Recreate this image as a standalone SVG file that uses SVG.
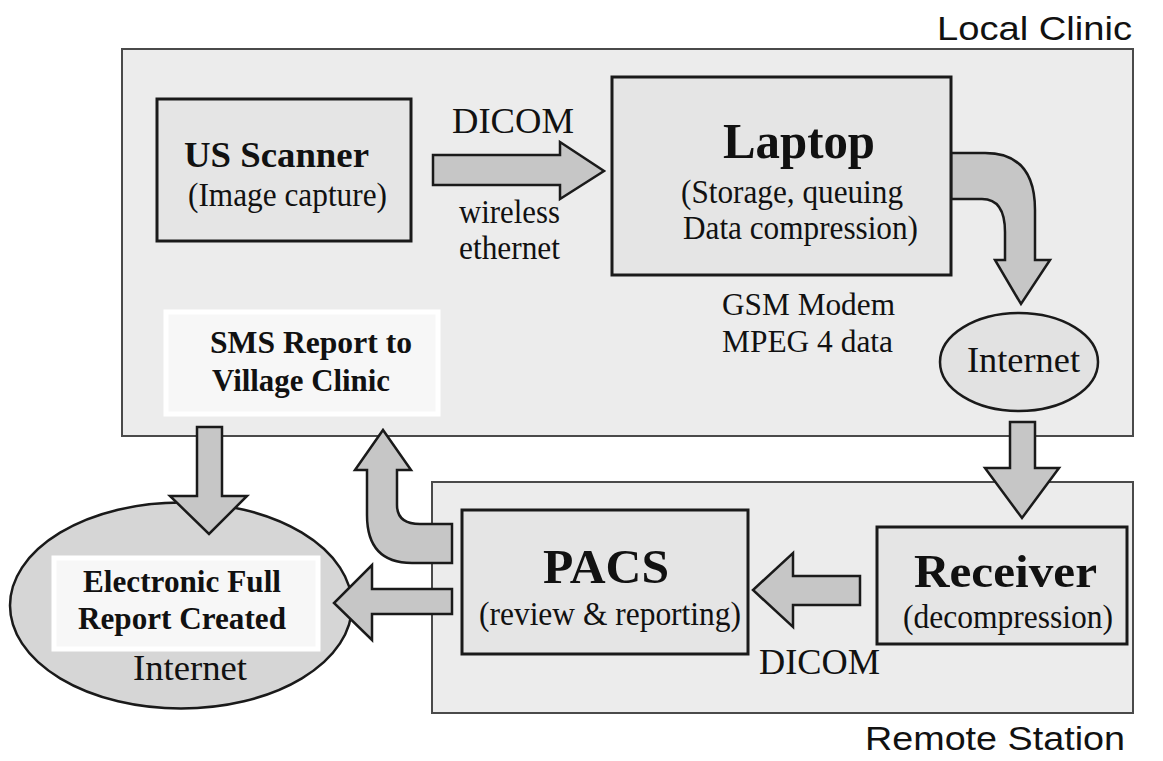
<svg xmlns="http://www.w3.org/2000/svg" width="1163" height="761" viewBox="0 0 1163 761">
<style>
.cont{fill:#ececec;stroke:#4a4a4a;stroke-width:2}
.box{fill:#e5e5e5;stroke:#1a1a1a;stroke-width:3}
.arr{fill:#c6c6c6;stroke:#1a1a1a;stroke-width:2.5;stroke-linejoin:miter}
.ell{stroke:#1a1a1a;stroke-width:2.5}
.wbox{fill:#f7f7f7;stroke:#ffffff;stroke-width:5}
.t{font-family:"Liberation Serif","Times New Roman",serif;fill:#111}
.b{font-weight:bold}
.s{font-family:"Liberation Sans",Arial,sans-serif;fill:#111}
</style>
<rect width="1163" height="761" fill="#ffffff"/>
<g id="local-clinic">
<rect class="cont" x="122" y="49" width="1011" height="387"/>
<text class="s" x="937" y="40" font-size="34" textLength="195" lengthAdjust="spacingAndGlyphs">Local Clinic</text>
</g>
<g id="remote-station">
<rect class="cont" x="432" y="482" width="701" height="231"/>
<text class="s" x="865" y="750" font-size="34" textLength="260" lengthAdjust="spacingAndGlyphs">Remote Station</text>
</g>
<g id="internet-top">
<ellipse class="ell" cx="1019" cy="362" rx="79" ry="49" fill="#e2e2e2"/>
<text class="t" x="967" y="372" font-size="36" textLength="113" lengthAdjust="spacingAndGlyphs">Internet</text>
</g>
<g id="electronic-report">
<ellipse class="ell" cx="181" cy="605.5" rx="171" ry="103" fill="#d6d6d6"/>
<rect class="wbox" x="54" y="558" width="264" height="91"/>
<text class="t b" x="83" y="592" font-size="31" textLength="198" lengthAdjust="spacingAndGlyphs">Electronic Full</text>
<text class="t b" x="78" y="629" font-size="31" textLength="208" lengthAdjust="spacingAndGlyphs">Report Created</text>
<text class="t" x="133" y="680" font-size="36" textLength="114" lengthAdjust="spacingAndGlyphs">Internet</text>
</g>
<g id="connectors">
<path class="arr" d="M433,155 L560,155 L560,142 L604,171 L560,199 L560,185 L433,185 Z"/>
<path class="arr" d="M951,153 L985,153 Q1035,153 1035,210 L1035,260 L1050,260 L1021,304 L995,260 L1005,260 L1005,232 Q1005,199 982,199 L951,199 Z"/>
<path class="arr" d="M1010,422 L1035,422 L1035,468 L1059,468 L1022,518 L985,468 L1010,468 Z"/>
<path class="arr" d="M860,576 L793,576 L793,553 L753,590 L793,627 L793,605 L860,605 Z"/>
<path class="arr" d="M452,589 L372,589 L372,565 L334,603 L372,640 L372,614 L452,614 Z"/>
<path class="arr" d="M452,563 L412,563 Q367,563 367,515 L367,470 L355,470 L383,430 L411,470 L397,470 L397,505 Q397,524 420,524 L452,524 Z"/>
<path class="arr" d="M197,427 L222,427 L222,496 L247,496 L209,534 L170,496 L197,496 Z"/>
</g>
<g id="us-scanner">
<rect class="box" x="157" y="99" width="254" height="142"/>
<text class="t b" x="184" y="167" font-size="36" textLength="185" lengthAdjust="spacingAndGlyphs">US Scanner</text>
<text class="t" x="188" y="206" font-size="33" textLength="199" lengthAdjust="spacingAndGlyphs">(Image capture)</text>
</g>
<g id="dicom-wireless-label">
<text class="t" x="452" y="133" font-size="36" textLength="122" lengthAdjust="spacingAndGlyphs">DICOM</text>
<text class="t" x="459" y="223" font-size="33" textLength="101" lengthAdjust="spacingAndGlyphs">wireless</text>
<text class="t" x="459" y="259" font-size="33" textLength="101" lengthAdjust="spacingAndGlyphs">ethernet</text>
</g>
<g id="laptop">
<rect class="box" x="612" y="77" width="339" height="198"/>
<text class="t b" x="723" y="158" font-size="50" textLength="152" lengthAdjust="spacingAndGlyphs">Laptop</text>
<text class="t" x="681" y="203" font-size="33" textLength="222" lengthAdjust="spacingAndGlyphs">(Storage, queuing</text>
<text class="t" x="683" y="239" font-size="33" textLength="235" lengthAdjust="spacingAndGlyphs">Data compression)</text>
</g>
<g id="gsm-label">
<text class="t" x="722" y="315" font-size="32" textLength="173" lengthAdjust="spacingAndGlyphs">GSM Modem</text>
<text class="t" x="722" y="352" font-size="32" textLength="171" lengthAdjust="spacingAndGlyphs">MPEG 4 data</text>
</g>
<g id="sms-report">
<rect class="wbox" x="166" y="312" width="272" height="102"/>
<text class="t b" x="210" y="353" font-size="31" textLength="202" lengthAdjust="spacingAndGlyphs">SMS Report to</text>
<text class="t b" x="212" y="391" font-size="31" textLength="178" lengthAdjust="spacingAndGlyphs">Village Clinic</text>
</g>
<g id="pacs">
<rect class="box" x="462" y="510" width="286" height="144"/>
<text class="t b" x="543" y="583" font-size="48" textLength="126" lengthAdjust="spacingAndGlyphs">PACS</text>
<text class="t" x="479" y="625" font-size="33" textLength="262" lengthAdjust="spacingAndGlyphs">(review &amp; reporting)</text>
</g>
<g id="dicom-label">
<text class="t" x="759" y="674" font-size="36" textLength="121" lengthAdjust="spacingAndGlyphs">DICOM</text>
</g>
<g id="receiver">
<rect class="box" x="877" y="527" width="250" height="117"/>
<text class="t b" x="914" y="587" font-size="47" textLength="183" lengthAdjust="spacingAndGlyphs">Receiver</text>
<text class="t" x="903" y="628" font-size="33" textLength="210" lengthAdjust="spacingAndGlyphs">(decompression)</text>
</g>
</svg>
